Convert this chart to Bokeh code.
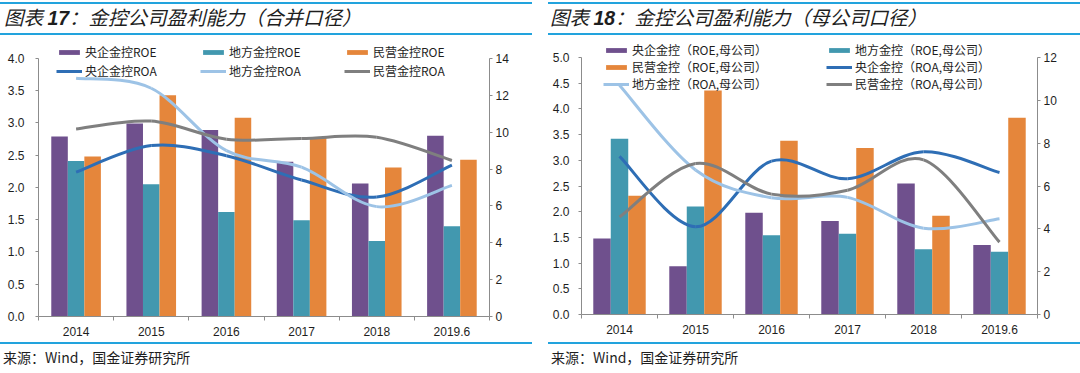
import numpy as np
from bokeh.plotting import figure
from bokeh.models import (Range1d, LinearAxis, FixedTicker, Legend, LegendItem,
                          NumeralTickFormatter, Spacer, Div)
from bokeh.layouts import column, row
from bokeh.embed import file_html
from bokeh.resources import INLINE

# ---------------- data ----------------
years = ["2014", "2015", "2016", "2017", "2018", "2019.6"]

# 图表17 合并口径  (ROE: left axis, ROA: right axis)
c17_central_roe = [2.79, 2.99, 2.89, 2.40, 2.06, 2.80]
c17_local_roe = [2.41, 2.05, 1.62, 1.49, 1.17, 1.40]
c17_private_roe = [2.48, 3.43, 3.08, 2.78, 2.31, 2.43]
c17_central_roa = [7.83, 9.27, 8.72, 7.40, 6.48, 8.21]
c17_local_roa = [12.92, 12.38, 9.00, 8.10, 5.96, 7.11]
c17_private_roa = [10.17, 10.60, 9.62, 9.66, 9.72, 8.46]

# 图表18 母公司口径
c18_central_roe = [1.48, 0.94, 1.98, 1.82, 2.55, 1.35]
c18_local_roe = [3.42, 2.10, 1.54, 1.57, 1.27, 1.22]
c18_private_roe = [2.31, 4.36, 3.38, 3.24, 1.92, 3.83]
c18_central_roa = [7.38, 4.10, 7.16, 6.34, 7.60, 6.63]
c18_local_roa = [10.70, 6.75, 5.45, 5.47, 4.03, 4.47]
c18_private_roa = [4.55, 7.05, 5.62, 5.80, 7.22, 3.38]

labels17_roe = ["央企金控ROE", "地方金控ROE", "民营金控ROE"]
labels17_roa = ["央企金控ROA", "地方金控ROA", "民营金控ROA"]
labels18_roe = ["央企金控（ROE,母公司）", "地方金控（ROE,母公司）", "民营金控（ROE,母公司）"]
labels18_roa = ["央企金控（ROA,母公司）", "地方金控（ROA,母公司）", "民营金控（ROA,母公司）"]

title17 = ("图表 ", "17", "：金控公司盈利能力（合并口径）")
title18 = ("图表 ", "18", "：金控公司盈利能力（母公司口径）")
source_text = "来源：Wind，国金证券研究所"

# ---------------- style ----------------
PURPLE = "#6F508D"
TEAL = "#4298AF"
ORANGE = "#E5863B"
DBLUE = "#2E6EB5"
LBLUE = "#9DC3E6"
GRAY = "#7F7F7F"
RULE = "#22A3DD"
AXIS = "#8C8C8C"
TXT = "#1E1E1E"
LAT = "Liberation Sans"
CJK = "Noto Sans CJK SC"
PW = 532


def smooth_segments(xs, ys):
    xs = np.asarray(xs, float)
    ys = np.asarray(ys, float)
    n = len(xs)
    x0, y0, x1, y1, cx0, cy0, cx1, cy1 = ([] for _ in range(8))
    for i in range(n - 1):
        a = max(i - 1, 0)
        d = min(i + 2, n - 1)
        x0.append(xs[i]); y0.append(ys[i]); x1.append(xs[i + 1]); y1.append(ys[i + 1])
        cx0.append(xs[i] + (xs[i + 1] - xs[a]) / 6.0)
        cy0.append(ys[i] + (ys[i + 1] - ys[a]) / 6.0)
        cx1.append(xs[i + 1] - (xs[d] - xs[i]) / 6.0)
        cy1.append(ys[i + 1] - (ys[d] - ys[i]) / 6.0)
    return dict(x0=x0, y0=y0, x1=x1, y1=y1, cx0=cx0, cy0=cy0, cx1=cx1, cy1=cy1)


def header(title, x_off):
    a, num, b = title
    html = (
        f'<div style="position:relative;width:{PW}px;height:40px;margin:0;padding:0;">'
        f'<div style="position:absolute;left:0;top:2px;width:{PW}px;height:0;border-top:2px solid {RULE};"></div>'
        f'<div style="position:absolute;left:{x_off}px;top:5px;white-space:nowrap;'
        f'font-family:\'{CJK}\';font-style:italic;font-size:19.5px;line-height:24px;color:{TXT};">'
        f'{a}<span style="font-family:\'{LAT}\';font-weight:bold;">{num}</span>{b}</div>'
        f'<div style="position:absolute;left:0;top:33px;width:{PW}px;height:0;border-top:2px solid {RULE};"></div>'
        f'</div>'
    )
    return Div(text=html, width=PW, height=40, margin=0)


def footer():
    html = (
        f'<div style="position:relative;width:{PW}px;height:34px;margin:0;padding:0;">'
        f'<div style="position:absolute;left:0;top:4px;width:{PW}px;height:0;border-top:2px solid {RULE};"></div>'
        f'<div style="position:absolute;left:3px;top:10px;white-space:nowrap;'
        f'font-family:\'{CJK}\';font-size:14px;line-height:18px;color:{TXT};">{source_text}</div>'
        f'</div>'
    )
    return Div(text=html, width=PW, height=34, margin=0)


def chart(roe, roa, lab_roe, lab_roa, ymax_l, ymax_r, b_left, frame_w, b_top, frame_h,
          axis_h, l_stand, leg_loc, leg_cols, leg_label_w, leg_row_h, bar_w):
    # frame_h: full frame height (incl. legend headroom); axis_h: height of the 0..ymax part
    n = len(years)
    xc = np.arange(n) + 0.5
    H = 298
    stretch = frame_h / axis_h
    p = figure(width=PW, height=H, x_range=Range1d(0, n),
               y_range=Range1d(0, ymax_l * stretch),
               output_backend="svg", toolbar_location=None,
               min_border_left=b_left, min_border_right=PW - b_left - frame_w,
               min_border_top=b_top, min_border_bottom=H - b_top - frame_h,
               outline_line_color=None, x_axis_location=None, y_axis_location=None)
    p.grid.visible = False
    p.extra_y_ranges = {"r": Range1d(0, ymax_r * stretch)}

    xa = LinearAxis(ticker=FixedTicker(ticks=list(xc), minor_ticks=list(range(n + 1))),
                    major_label_overrides={float(x): y for x, y in zip(xc, years)})
    xa.major_tick_line_color = None
    xa.major_tick_out = 0
    xa.major_tick_in = 0
    xa.minor_tick_in = 0
    xa.minor_tick_out = 4
    xa.minor_tick_line_color = AXIS
    xa.axis_line_color = AXIS
    xa.major_label_standoff = 6
    p.add_layout(xa, "below")

    ya = LinearAxis(ticker=FixedTicker(ticks=list(np.arange(0, ymax_l + 0.01, 0.5))),
                    formatter=NumeralTickFormatter(format="0.0"), bounds=(0, ymax_l))
    ya.major_label_standoff = l_stand
    p.add_layout(ya, "left")

    yr = LinearAxis(y_range_name="r", ticker=FixedTicker(ticks=list(range(0, ymax_r + 1, 2))),
                    bounds=(0, ymax_r))
    yr.major_label_standoff = 3
    p.add_layout(yr, "right")

    for ax in (ya, yr):
        ax.axis_line_color = AXIS
        ax.major_tick_line_color = AXIS
        ax.major_tick_in = 0
        ax.major_tick_out = 3
        ax.minor_tick_line_color = None
    for ax in (xa, ya, yr):
        ax.major_label_text_font = LAT
        ax.major_label_text_font_size = "12px"
        ax.major_label_text_color = TXT

    bar_rs = []
    for k, (vals, col) in enumerate(zip(roe, (PURPLE, TEAL, ORANGE))):
        r = p.vbar(x=xc + (k - 1) * bar_w, top=vals, width=bar_w, fill_color=col, line_color=None)
        bar_rs.append(r)

    line_rs = []
    for vals, col in zip(roa, (DBLUE, LBLUE, GRAY)):
        seg = smooth_segments(xc, vals)
        p.bezier(y_range_name="r", line_color=col, line_width=3, **seg)
        # single-point line: draws nothing in the plot, only serves as legend glyph
        line_rs.append(p.line(x=[xc[0]], y=[vals[0]], y_range_name="r",
                              line_color=col, line_width=3))

    all_r = bar_rs + line_rs
    all_l = list(lab_roe) + list(lab_roa)
    items = [LegendItem(label=l, renderers=[r]) for l, r in zip(all_l, all_r)]
    leg = Legend(items=items, location=leg_loc, orientation="horizontal", ncols=leg_cols,
                 glyph_width=26, glyph_height=6, label_standoff=3, label_width=leg_label_w,
                 label_height=leg_row_h, spacing=0, padding=0, margin=0,
                 border_line_color=None, background_fill_alpha=0,
                 label_text_font=CJK, label_text_font_size="12px", label_text_color=TXT)
    p.add_layout(leg)
    return p


c17 = chart([c17_central_roe, c17_local_roe, c17_private_roe],
            [c17_central_roa, c17_local_roa, c17_private_roa],
            labels17_roe, labels17_roa, 4, 14,
            b_left=38, frame_w=451, b_top=2, frame_h=276, axis_h=260, l_stand=11,
            leg_loc=(18, 236), leg_cols=3, leg_label_w=115, leg_row_h=19, bar_w=0.22)

c18 = chart([c18_central_roe, c18_local_roe, c18_private_roe],
            [c18_central_roa, c18_local_roa, c18_private_roa],
            labels18_roe, labels18_roa, 5, 12,
            b_left=33, frame_w=456, b_top=0, frame_h=274, axis_h=257, l_stand=9,
            leg_loc=(22, 222), leg_cols=2, leg_label_w=194, leg_row_h=16, bar_w=0.23)

left = column(header(title17, 4), c17, footer(), spacing=0)
right = column(header(title18, 2), c18, footer(), spacing=0)
layout = row(left, Spacer(width=16, height=10), right, spacing=0)

open("out.html", "w").write(file_html(layout, INLINE))
